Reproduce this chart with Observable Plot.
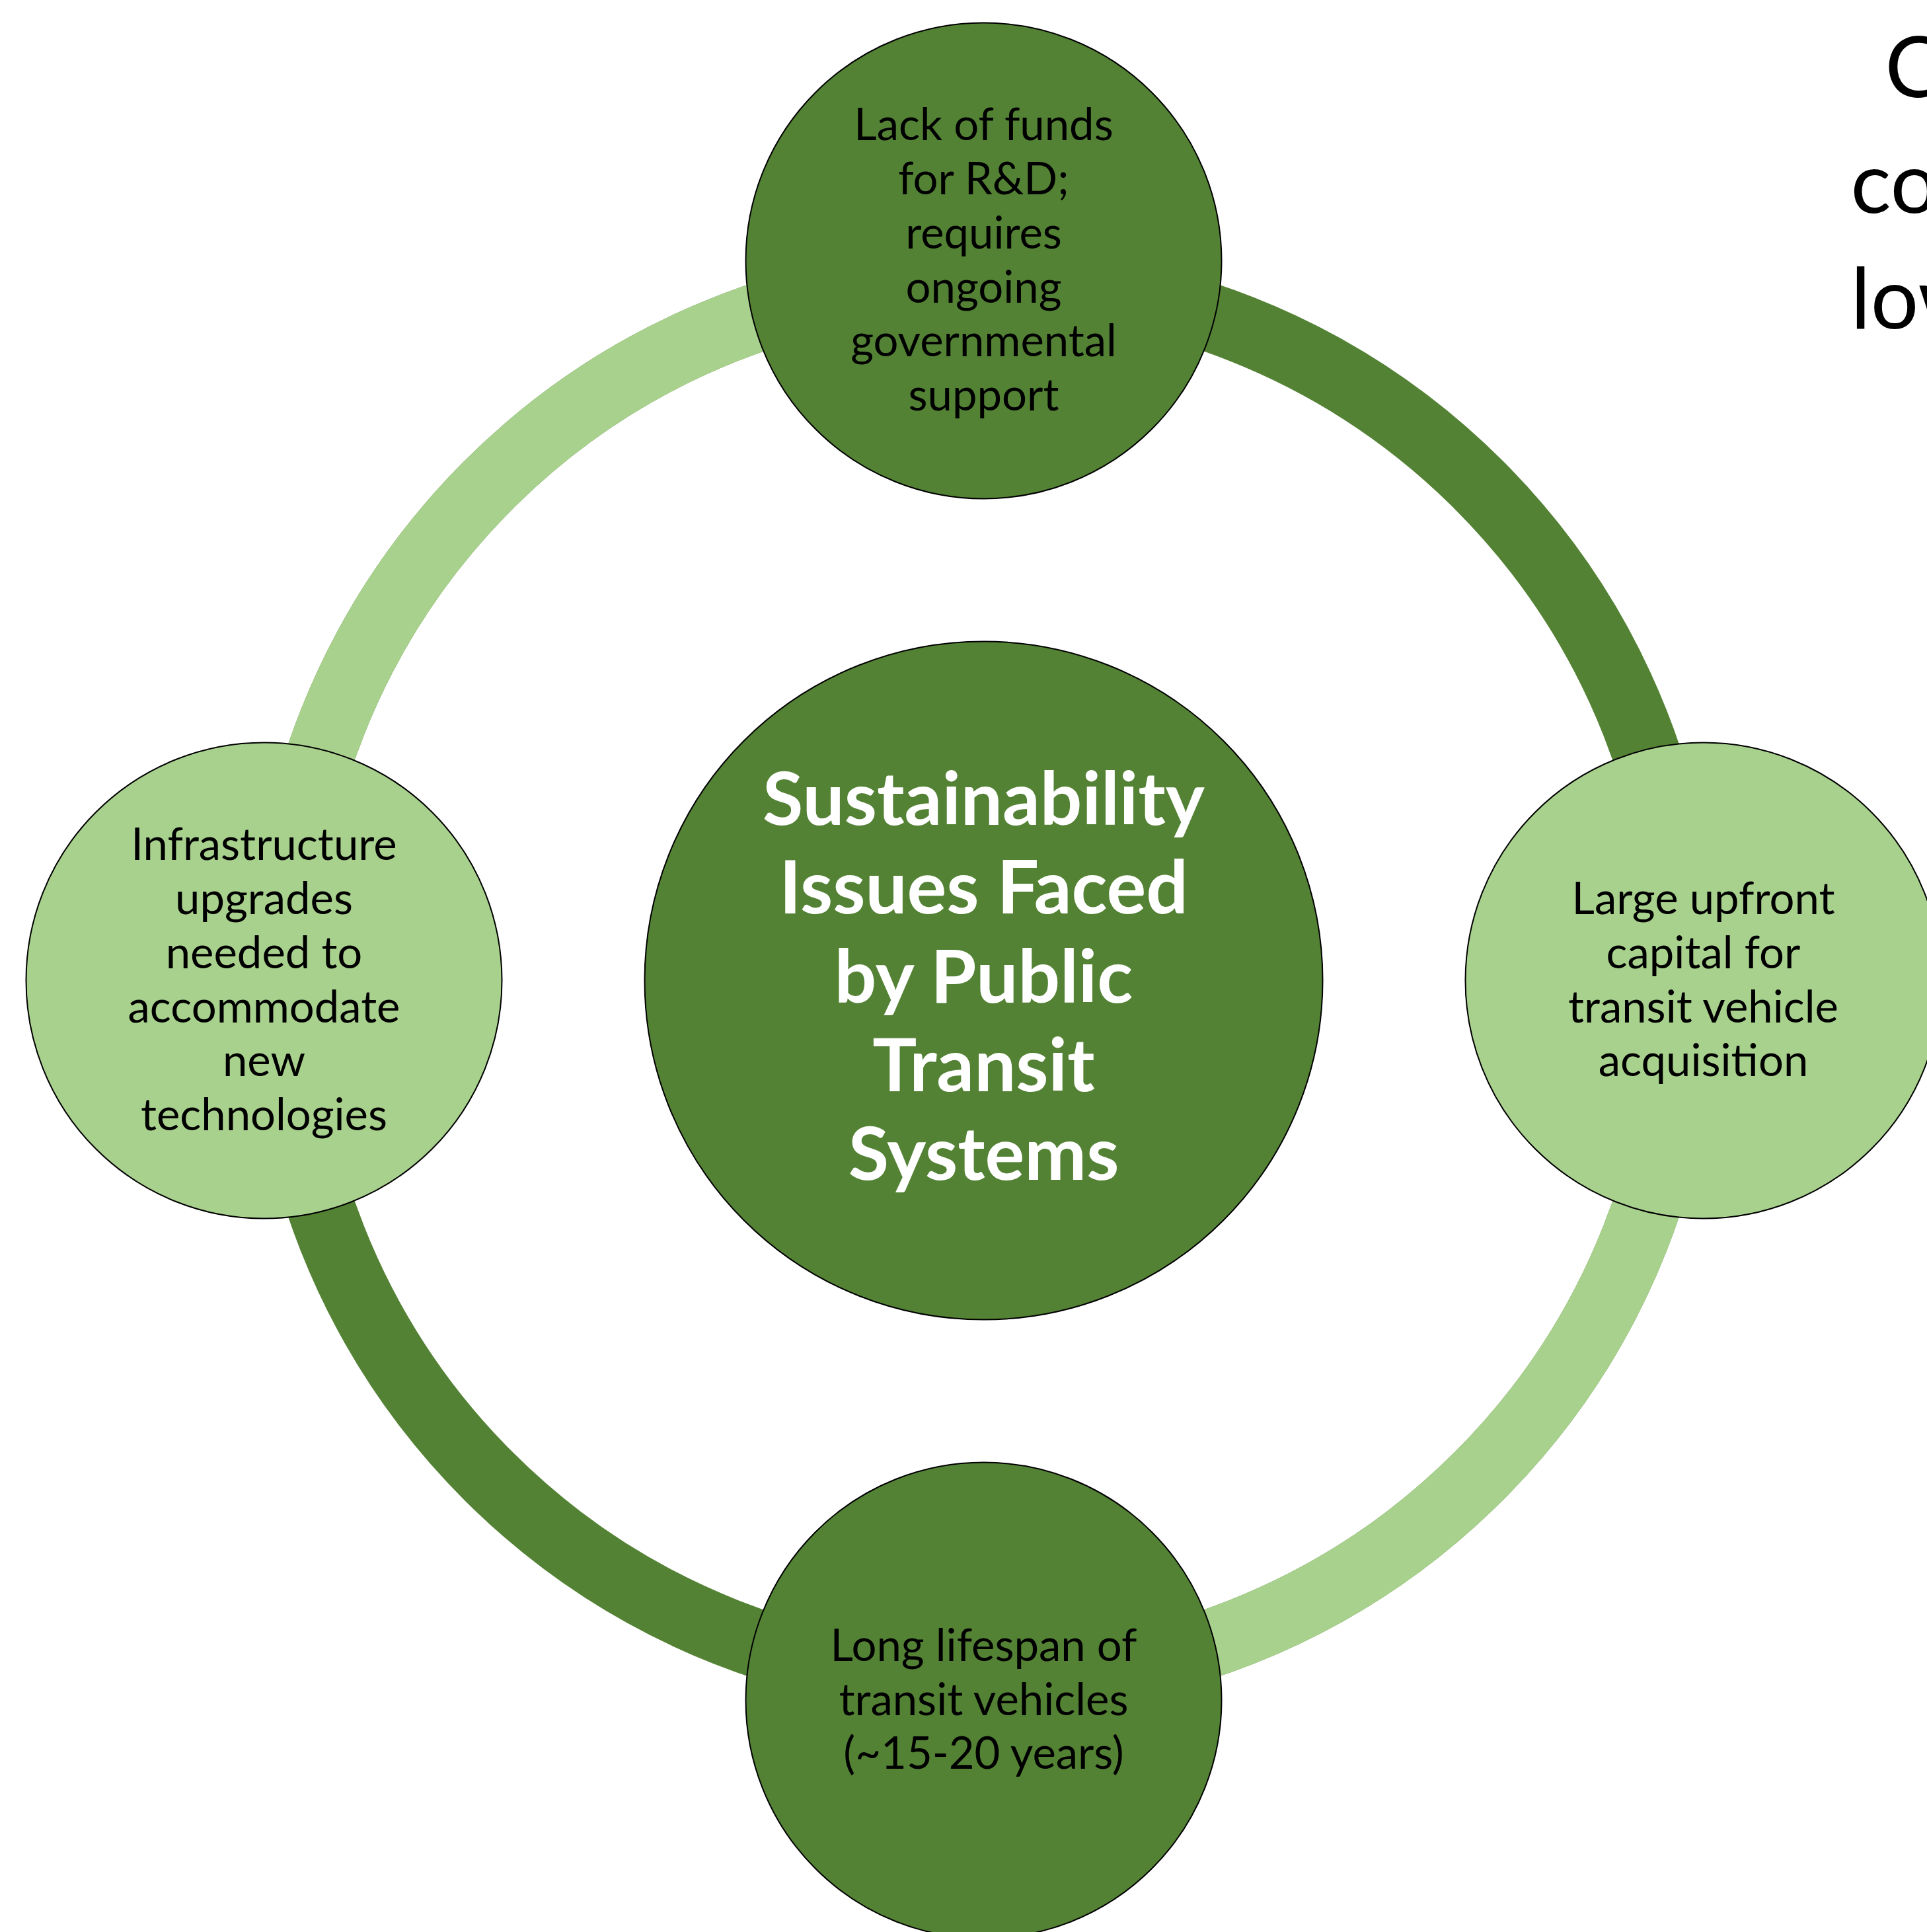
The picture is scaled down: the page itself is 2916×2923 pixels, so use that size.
<!DOCTYPE html>
<html>
<head>
<meta charset="utf-8">
<script src="https://cdn.jsdelivr.net/npm/d3@7"></script>
<script src="https://cdn.jsdelivr.net/npm/@observablehq/plot@0.6"></script>
<style>
  html, body { margin: 0; padding: 0; background: #ffffff; overflow: hidden; }
</style>
</head>
<body>
<div id="chart"></div>
<script>
// ---- data ----
const centerTitle = "Sustainability\nIssues Faced\nby Public\nTransit\nSystems";
// cycle nodes, clockwise from the top
const nodeLabels = [
  "Lack of funds\nfor R&D;\nrequires\nongoing\ngovernmental\nsupport",
  "Large upfront\ncapital for\ntransit vehicle\nacquisition",
  "Long lifespan of\ntransit vehicles\n(~15-20 years)",
  "Infrastructure\nupgrades\nneeded to\naccommodate\nnew\ntechnologies"
];
const nodeShade = ["dark", "light", "dark", "light"];
const shadeNames = ["dark", "light"];
const shadeColors = ["#548235", "#A9D18E"];
// clipped text at the top-right edge
const cornerLines = ["C", "co", "low"];

// ---- layout ----
const W = 2916, H = 2923;
const cx = 1488, cy = 1483;
const orbit = 1089;          // distance of node centres
const ringR = 1060, ringW = 103;
const nodeR = 360, centerR = 513;

const nodes = nodeLabels.map((label, i) => {
  const a = (-90 + 90 * i) * Math.PI / 180;
  return {label, shade: nodeShade[i], px: cx + orbit * Math.cos(a), py: cy + orbit * Math.sin(a)};
});
const quarter = 2 * Math.PI * ringR / 4;

const cornerPos = [[2852, 146], [2800, 321], [2800, 496]];
const corner = cornerLines.map((t, i) => ({t, px: cornerPos[i][0], py: cornerPos[i][1]}));

const chart = Plot.plot({
  width: W,
  height: H,
  margin: 0,
  x: {domain: [0, W], range: [0, W], axis: null},
  y: {domain: [0, H], range: [0, H], axis: null},
  color: {domain: shadeNames, range: shadeColors},
  style: {background: "#ffffff"},
  marks: [
    // ring: dark base, light quarters (bottom-right and top-left)
    Plot.dot([0], {x: () => cx, y: () => cy, r: ringR, fill: "none", stroke: shadeColors[0], strokeWidth: ringW}),
    Plot.dot([0], {x: () => cx, y: () => cy, r: ringR, fill: "none", stroke: shadeColors[1], strokeWidth: ringW,
      strokeDasharray: `${quarter} ${quarter}`}),
    // centre
    Plot.dot([0], {x: () => cx, y: () => cy, r: centerR, fill: shadeColors[0], stroke: "#000000", strokeWidth: 2}),
    // nodes
    Plot.dot(nodes, {x: "px", y: "py", r: nodeR, fill: "shade", stroke: "#000000", strokeWidth: 2}),
    Plot.text([centerTitle], {x: () => cx, y: () => cy, text: d => d, fill: "#ffffff",
      fontFamily: "Lato", fontWeight: "bold", fontSize: 112, lineHeight: 1.2, dy: -10,
      textAnchor: "middle", lineAnchor: "middle"}),
    Plot.text(nodes, {x: "px", y: "py", text: "label", fill: "#000000",
      fontFamily: "Lato", fontSize: 67, lineHeight: 1.22, dy: -4,
      textAnchor: "middle", lineAnchor: "middle"}),
    Plot.text(corner, {x: "px", y: "py", text: "t", fill: "#000000",
      fontFamily: "Lato", fontSize: 128, textAnchor: "start", lineAnchor: "bottom"})
  ]
});
document.getElementById("chart").appendChild(chart);
</script>
</body>
</html>
